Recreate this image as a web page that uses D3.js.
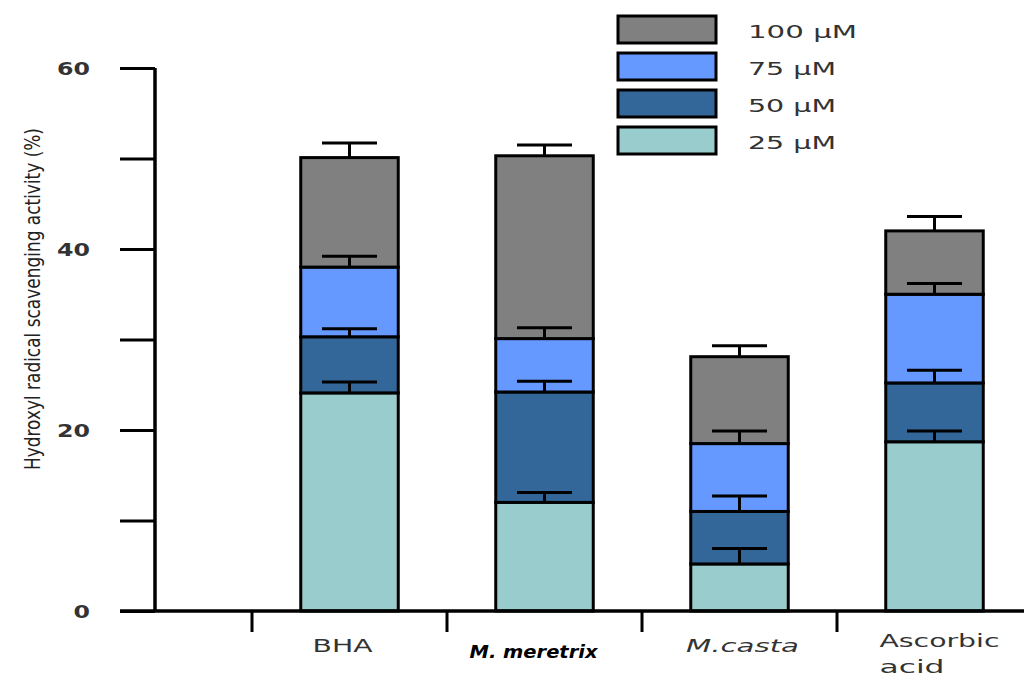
<!DOCTYPE html>
<html>
<head>
<meta charset="utf-8">
<script src="https://cdn.jsdelivr.net/npm/d3@7/dist/d3.min.js"></script>
<style>
  html, body { margin: 0; padding: 0; background: #fff; }
  svg { display: block; }
</style>
</head>
<body>
<svg id="chart" width="1024" height="677"></svg>
<script>
// ---- data ----
const categories = ["BHA", "M. meretrix", "M.casta", "Ascorbic acid"];
const seriesNames = ["25 µM", "50 µM", "75 µM", "100 µM"];
// segment heights (increment per concentration), %
const v25  = [24.1, 12.0, 5.2, 18.7];
const v50  = [6.2, 12.2, 5.8, 6.5];
const v75  = [7.7, 5.9, 7.5, 9.8];
const v100 = [12.1, 20.2, 9.6, 7.0];
// error bar (+SD) for each segment
const e25  = [1.2, 1.1, 1.7, 1.2];
const e50  = [0.9, 1.2, 1.7, 1.4];
const e75  = [1.2, 1.2, 1.4, 1.2];
const e100 = [1.6, 1.2, 1.2, 1.6];
const yTicks = [0, 10, 20, 30, 40, 50, 60];
const yTickLabels = ["0", "", "20", "", "40", "", "60"];
const colors = ["#99cccc", "#336699", "#6699ff", "#808080"];

const svg = d3.select("#chart");

const x = d3.scaleBand().domain(categories).range([252, 1032]).paddingInner(0.5).paddingOuter(0.25);
const y = d3.scaleLinear().domain([0, 60]).range([611, 68]);
const step = x.step();

const vals = [v25, v50, v75, v100];
const errs = [e25, e50, e75, e100];

// stack data
const rows = categories.map((c, i) => {
  const o = { cat: c };
  seriesNames.forEach((s, k) => o[s] = vals[k][i]);
  return o;
});
const stack = d3.stack().keys(seriesNames)(rows);

// bars
stack.forEach((layer, k) => {
  svg.append("g").selectAll("rect").data(layer).join("rect")
    .attr("x", d => x(d.data.cat))
    .attr("width", x.bandwidth())
    .attr("y", d => y(d[1]))
    .attr("height", d => y(d[0]) - y(d[1]))
    .attr("fill", colors[k])
    .attr("stroke", "#000")
    .attr("stroke-width", 3);
});

// error bars
const capW = 55;
stack.forEach((layer, k) => {
  const g = svg.append("g").attr("stroke", "#000").attr("stroke-width", 3);
  layer.forEach((d, i) => {
    const cx = x(d.data.cat) + x.bandwidth() / 2;
    const top = d[1] + errs[k][i];
    g.append("line").attr("x1", cx).attr("x2", cx).attr("y1", y(d[1])).attr("y2", y(top));
    g.append("line").attr("x1", cx - capW / 2).attr("x2", cx + capW / 2).attr("y1", y(top)).attr("y2", y(top));
  });
});

// y axis
const yAxis = d3.axisLeft(y).tickValues(yTicks).tickSize(35).tickPadding(30)
  .tickFormat((d, i) => yTickLabels[i]);
const ya = svg.append("g").attr("transform", "translate(155,0)").call(yAxis);
ya.select(".domain").attr("stroke", "#000").attr("stroke-width", 3.5)
  .attr("d", `M0,${y(60)}V${y(0)}`);
ya.selectAll(".tick line").attr("stroke", "#000").attr("stroke-width", 3);
ya.selectAll(".tick text")
  .attr("font-family", "DejaVu Sans, Verdana, sans-serif")
  .attr("font-size", 18).attr("font-weight", "bold").attr("fill", "#333")
  .attr("x", -65).attr("dy", "0.35em")
  .attr("text-anchor", "end")
  .attr("textLength", d => String(d).length * 16.5)
  .attr("lengthAdjust", "spacingAndGlyphs");

// x axis line
svg.append("line").attr("x1", 120).attr("x2", 1024).attr("y1", y(0)).attr("y2", y(0))
  .attr("stroke", "#000").attr("stroke-width", 3.5);
// x ticks at band boundaries
const tickXs = categories.map(c => x(c) - step * 0.25);
svg.append("g").selectAll("line").data(tickXs).join("line")
  .attr("x1", d => d).attr("x2", d => d).attr("y1", y(0)).attr("y2", y(0) + 21)
  .attr("stroke", "#000").attr("stroke-width", 3);

// x labels
const labelSpec = [
  { lines: ["BHA"], style: "normal", weight: "normal", fill: "#333", base: [652], w: [60], anchor: "middle", dx: -7 },
  { lines: ["M. meretrix"], style: "italic", weight: "bold", fill: "#000", base: [658], w: [128], anchor: "middle", dx: -11 },
  { lines: ["M.casta"], style: "italic", weight: "normal", fill: "#333", base: [652], w: [113], anchor: "middle", dx: 3 },
  { lines: ["Ascorbic", "acid"], style: "normal", weight: "normal", fill: "#333", base: [647, 673], w: [120, 65], anchor: "start", dx: -55 }
];
categories.forEach((c, i) => {
  const s = labelSpec[i];
  const cx = x(c) + x.bandwidth() / 2 + s.dx;
  s.lines.forEach((t, j) => {
    svg.append("text").text(t)
      .attr("x", cx).attr("y", s.base[j])
      .attr("text-anchor", s.anchor)
      .attr("font-family", "DejaVu Sans, Verdana, sans-serif")
      .attr("font-size", 18).attr("font-style", s.style).attr("font-weight", s.weight)
      .attr("fill", s.fill)
      .attr("textLength", s.w[j]).attr("lengthAdjust", "spacingAndGlyphs");
  });
});

// y axis title
svg.append("text").text("Hydroxyl radical scavenging activity (%)")
  .attr("transform", "translate(40,299) rotate(-90)")
  .attr("text-anchor", "middle")
  .attr("font-family", "Liberation Sans Narrow, DejaVu Sans Condensed, sans-serif")
  .attr("font-size", 21).attr("fill", "#222")
  .attr("textLength", 342).attr("lengthAdjust", "spacingAndGlyphs");

// legend (top to bottom: 100, 75, 50, 25)
const legendOrder = [3, 2, 1, 0];
const legendWidths = [109, 88, 88, 88];
const lg = svg.append("g");
legendOrder.forEach((k, r) => {
  const top = 16 + r * 37;
  lg.append("rect").attr("x", 618).attr("y", top).attr("width", 98).attr("height", 27)
    .attr("fill", colors[k]).attr("stroke", "#000").attr("stroke-width", 3);
  lg.append("text").text(seriesNames[k])
    .attr("x", 748).attr("y", top + 22)
    .attr("font-family", "DejaVu Sans, Verdana, sans-serif")
    .attr("font-size", 18).attr("font-weight", "500").attr("fill", "#333")
    .attr("textLength", legendWidths[r]).attr("lengthAdjust", "spacingAndGlyphs");
});
</script>
</body>
</html>
